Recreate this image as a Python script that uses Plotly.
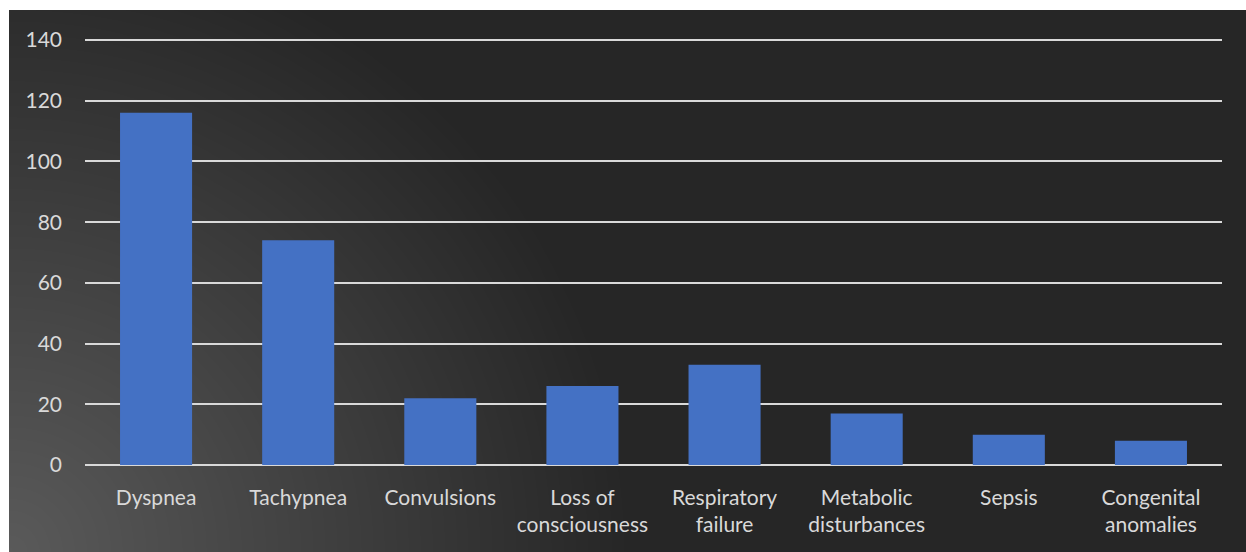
import numpy as np
import plotly.graph_objects as go

# Symptom counts
categories = ["Dyspnea", "Tachypnea", "Convulsions", "Loss of<br>consciousness",
              "Respiratory<br>failure", "Metabolic<br>disturbances", "Sepsis",
              "Congenital<br>anomalies"]
counts = [116, 74, 22, 26, 33, 17, 10, 8]
y_ticks = [0, 20, 40, 60, 80, 100, 120, 140]

W, H = 1246, 552
ML, MT = 9, 10
PW, PH = W - ML, H - MT

# Radial background shading, brightest at the lower-left corner
gx = np.linspace(-10, PW + 10, 160)
gy = np.linspace(-10, PH + 10, 80)
GX, GY = np.meshgrid(gx, gy)
dist = np.sqrt(GX ** 2 + GY ** 2)

text_color = "#d9d9d9"
font_family = "Lato, 'Open Sans', sans-serif"

fig = go.Figure()
fig.add_trace(go.Heatmap(
    x=gx, y=gy, z=dist, zmin=0, zmax=620, zsmooth="best",
    colorscale=[[0, "#5a5a5a"], [1, "#262626"]],
    showscale=False, hoverinfo="skip", xaxis="x", yaxis="y",
))
fig.add_trace(go.Bar(
    x=categories, y=counts, xaxis="x2", yaxis="y2",
    marker=dict(color="#4471c4", line=dict(width=0)),
))

# Plot-area geometry in pixels
x0, x1 = 85, 1222
y_zero, y_140 = 465, 40
y_max = 141
px_per_unit = (y_zero - y_140) / 140
y_top = y_zero - y_max * px_per_unit

fig.update_layout(
    width=W, height=H,
    margin=dict(l=ML, r=0, t=MT, b=0, pad=0),
    paper_bgcolor="white",
    plot_bgcolor="rgba(0,0,0,0)",
    showlegend=False,
    bargap=0.493,
    font=dict(family=font_family, color=text_color, size=21),
    xaxis=dict(domain=[0, 1], range=[0, PW], visible=False,
               fixedrange=True, automargin=False),
    yaxis=dict(domain=[0, 1], range=[0, PH], visible=False,
               fixedrange=True, automargin=False),
    xaxis2=dict(
        domain=[(x0 - ML) / PW, (x1 - ML) / PW], anchor="y2",
        showgrid=False, showline=False, ticks="", automargin=False,
        tickfont=dict(size=21, color=text_color),
        ticklabelstandoff=18,
    ),
    yaxis2=dict(
        domain=[(H - y_zero) / PH, (H - y_top) / PH], anchor="x2",
        range=[0, y_max], tickvals=y_ticks, automargin=False,
        showgrid=True, gridcolor="#d9d9d9", gridwidth=2,
        zeroline=True, zerolinecolor="#d9d9d9", zerolinewidth=2,
        showline=False, ticks="",
        tickfont=dict(size=21, color=text_color),
        ticklabelstandoff=22,
    ),
)

fig.write_html("out.html")
